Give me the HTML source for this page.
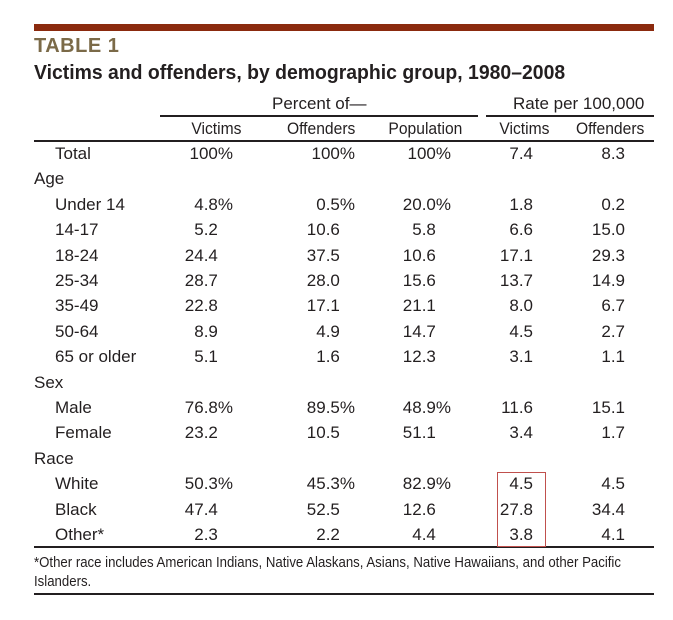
<!DOCTYPE html>
<html><head><meta charset="utf-8">
<style>
html,body{margin:0;padding:0;background:#fff;}
#page{position:relative;width:673px;height:620px;overflow:hidden;background:#fff;font-family:"Liberation Sans",sans-serif;color:#231f20;}
.t{position:absolute;white-space:nowrap;font-size:17px;line-height:20px;}
.r{text-align:right;}
.hl{position:absolute;background:#231f20;height:1.5px;}
.pad{visibility:hidden;}
</style></head><body>
<div id="page">
  <div style="position:absolute;left:34px;top:24px;width:620px;height:7px;background:#8b2a0e;"></div>
  <div class="t" style="left:34px;top:36px;font-size:20px;font-weight:bold;color:#7b6a48;letter-spacing:0.5px;">TABLE 1</div>
  <div class="t" style="left:34px;top:63px;font-size:20px;font-weight:bold;transform:scaleX(0.97);transform-origin:left;">Victims and offenders, by demographic group, 1980–2008</div>
  <div class="t" style="left:272px;top:94px;">Percent of—</div>
  <div class="t" style="left:513px;top:94px;">Rate per 100,000</div>
  <div class="hl" style="left:160px;top:115px;width:318px;"></div>
  <div class="hl" style="left:486px;top:115px;width:168px;"></div>
  <div class="hl" style="left:34px;top:140px;width:620px;"></div>
  <div class="hl" style="left:34px;top:546px;width:620px;"></div>
  <div class="t" style="left:34px;top:553px;font-size:15px;line-height:19px;transform:scaleX(0.88);transform-origin:left;">*Other race includes American Indians, Native Alaskans, Asians, Native Hawaiians, and other Pacific<br>Islanders.</div>
  <div class="hl" style="left:34px;top:593px;width:620px;"></div>
  <div style="position:absolute;left:497px;top:472px;width:47px;height:73px;border:1px solid #c0504d;"></div>
</div>
<script>
const rowLabels=["Total","Age","Under 14","14-17","18-24","25-34","35-49","50-64","65 or older","Sex","Male","Female","Race","White","Black","Other*"];
const rowIsGroup=[false,true,false,false,false,false,false,false,false,true,false,false,true,false,false,false];
const colHeaders=["Victims","Offenders","Population","Victims","Offenders"];
const victimsPct=["100%","","4.8%","5.2","24.4","28.7","22.8","8.9","5.1","","76.8%","23.2","","50.3%","47.4","2.3"];
const offendersPct=["100%","","0.5%","10.6","37.5","28.0","17.1","4.9","1.6","","89.5%","10.5","","45.3%","52.5","2.2"];
const populationPct=["100%","","20.0%","5.8","10.6","15.6","21.1","14.7","12.3","","48.9%","51.1","","82.9%","12.6","4.4"];
const victimsRate=["7.4","","1.8","6.6","17.1","13.7","8.0","4.5","3.1","","11.6","3.4","","4.5","27.8","3.8"];
const offendersRate=["8.3","","0.2","15.0","29.3","14.9","6.7","2.7","1.1","","15.1","1.7","","4.5","34.4","4.1"];
const columns=[victimsPct,offendersPct,populationPct,victimsRate,offendersRate];
const colNames=["victims-pct","offenders-pct","population-pct","victims-rate","offenders-rate"];
const colRight=[233,355,451,533,625];
const headerRight=[241,355,462,549,644];
const colPct=[true,true,true,false,false];
const page=document.getElementById('page');
const rowTop=i=>144+i*25.4;
colHeaders.forEach((h,j)=>{
  const d=document.createElement('div');
  d.className='t r';
  
  
  d.style.right=(673-headerRight[j])+'px';
  d.style.top='119px';
  d.style.transform='scaleX(0.92)';
  d.style.transformOrigin='right';
  d.textContent=h;
  page.appendChild(d);
});
rowLabels.forEach((lab,i)=>{
  const d=document.createElement('div');
  d.className='t';
  
  
  d.style.left=(rowIsGroup[i]?34:55)+'px';
  d.style.top=rowTop(i)+'px';
  d.textContent=lab;
  page.appendChild(d);
  columns.forEach((col,j)=>{
    const v=col[i];
    if(!v) return;
    const c=document.createElement('div');
    c.className='t r';
    
    
    c.style.right=(673-colRight[j])+'px';
    c.style.top=rowTop(i)+'px';
    if(colPct[j] && v.indexOf('%')<0){
      c.innerHTML=v+'<span class="pad">%</span>';
    } else c.textContent=v;
    page.appendChild(c);
  });
});
</script>
</body></html>
